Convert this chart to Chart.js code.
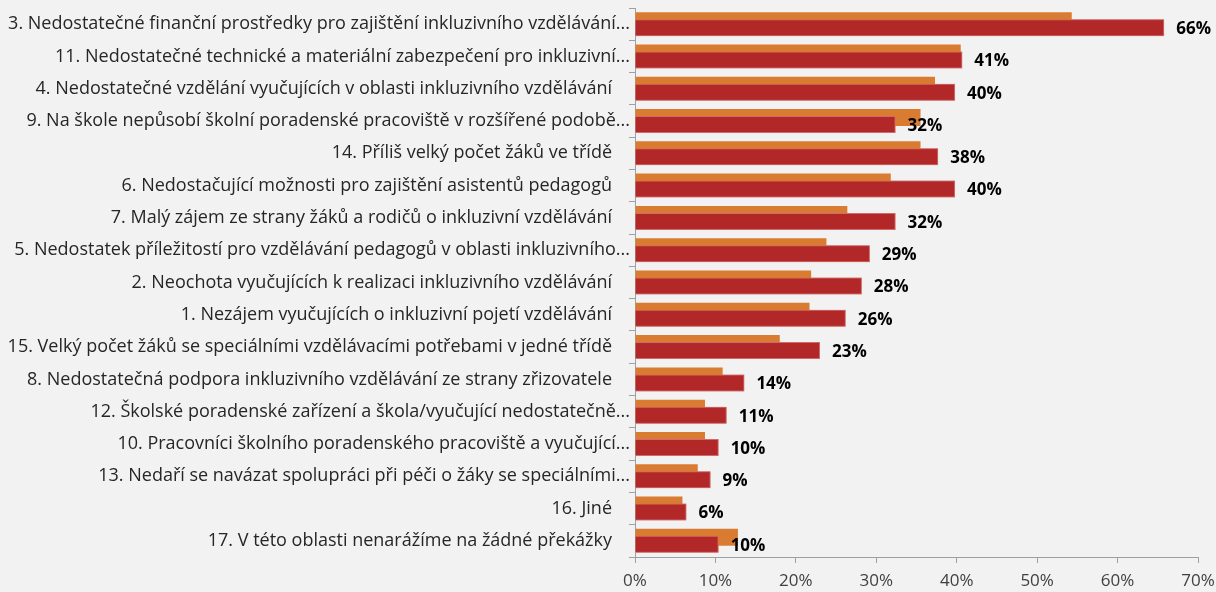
<!DOCTYPE html>
<html>
<head>
<meta charset="utf-8">
<script src="https://cdn.jsdelivr.net/npm/chart.js@4"></script>
<style>
html, body { margin: 0; padding: 0; background: #f2f2f2; }
</style>
</head>
<body>
<canvas id="chartCanvas" width="1216" height="592"></canvas>
<script>
const categories = [
    '3. Nedostatečné finanční prostředky pro zajištění inkluzivního vzdělávání...',
    '11. Nedostatečné technické a materiální zabezpečení pro inkluzivní...',
    '4. Nedostatečné vzdělání vyučujících v oblasti inkluzivního vzdělávání',
    '9. Na škole nepůsobí školní poradenské pracoviště v rozšířené podobě...',
    '14. Příliš velký počet žáků ve třídě',
    '6. Nedostačující možnosti pro zajištění asistentů pedagogů',
    '7. Malý zájem ze strany žáků a rodičů o inkluzivní vzdělávání',
    '5. Nedostatek příležitostí pro vzdělávání pedagogů v oblasti inkluzivního...',
    '2. Neochota vyučujících k realizaci inkluzivního vzdělávání',
    '1. Nezájem vyučujících o inkluzivní pojetí vzdělávání',
    '15. Velký počet žáků se speciálními vzdělávacími potřebami v jedné třídě',
    '8. Nedostatečná podpora inkluzivního vzdělávání ze strany zřizovatele',
    '12. Školské poradenské zařízení a škola/vyučující nedostatečně...',
    '10. Pracovníci školního poradenského pracoviště a vyučující...',
    '13. Nedaří se navázat spolupráci při péči o žáky se speciálními...',
    '16. Jiné',
    '17. V této oblasti nenarážíme na žádné překážky'
];

// orange (thin, upper) series
const seriesOrange = [54.3, 40.5, 37.3, 35.5, 35.5, 31.8, 26.4, 23.8, 21.9, 21.7, 18.0, 10.9, 8.7, 8.7, 7.8, 5.9, 12.8];
// red (labelled) series
const seriesRed = [65.8, 40.7, 39.8, 32.4, 37.7, 39.8, 32.4, 29.2, 28.2, 26.2, 23.0, 13.6, 11.4, 10.4, 9.4, 6.4, 10.4];

const xMin = 0;
const xMax = 70;
const xStep = 10;

const fontFamily = '"Open Sans", Lato, sans-serif';

// draws red bars again over the orange ones and writes the percentages
const valueLabels = {
    id: 'valueLabels',
    afterDatasetsDraw(chart) {
        const ctx = chart.ctx;
        const red = chart.getDatasetMeta(1);
        red.data.forEach(bar => bar.draw(ctx));
        ctx.save();
        ctx.font = 'bold 17px ' + fontFamily;
        ctx.fillStyle = '#000000';
        ctx.textBaseline = 'middle';
        ctx.textAlign = 'left';
        red.data.forEach((bar, i) => {
            ctx.fillText(Math.round(seriesRed[i]) + '%', bar.x + 12, bar.y + 1.5);
        });
        ctx.restore();
    }
};

const ctx = document.getElementById('chartCanvas').getContext('2d');
const myChart = new Chart(ctx, {
    type: 'bar',
    data: {
        labels: categories,
        datasets: [{
            data: seriesOrange,
            backgroundColor: '#d97b30',
            borderWidth: 0,
            categoryPercentage: 0.4334,
            barPercentage: 2.43
        }, {
            data: seriesRed,
            backgroundColor: '#b22727',
            borderColor: '#cf6b6b',
            borderWidth: 1,
            categoryPercentage: 0.4334,
            barPercentage: 2.43
        }]
    },
    options: {
        indexAxis: 'y',
        responsive: false,
        animation: false,
        layout: { padding: { top: 8, right: 18, left: 0, bottom: 0 } },
        plugins: {
            legend: { display: false },
            tooltip: { enabled: false }
        },
        scales: {
            x: {
                min: xMin,
                max: xMax,
                ticks: {
                    stepSize: xStep,
                    callback: v => v + '%',
                    color: '#404040',
                    font: { family: fontFamily, size: 17 },
                    padding: 8,
                    maxRotation: 0
                },
                grid: { drawOnChartArea: false, tickLength: 6, color: '#a0a0a0' },
                border: { color: '#a0a0a0' },
                afterFit: s => {
                    s.height = 35;
                    s.paddingLeft = 0;
                    s.paddingRight = 0;
                }
            },
            y: {
                ticks: {
                    callback: (v, i) => categories[i].endsWith('...') ? categories[i] : categories[i] + '\u2003',
                    color: '#262626',
                    font: { family: fontFamily, size: 18 },
                    padding: -1,
                    autoSkip: false
                },
                grid: { drawOnChartArea: false, tickLength: 6, color: '#a0a0a0', offset: true },
                border: { color: '#a0a0a0' },
                afterFit: s => {
                    s.width = 635;
                    s.paddingTop = 0;
                    s.paddingBottom = 0;
                }
            }
        }
    },
    plugins: [valueLabels]
});
</script>
</body>
</html>
